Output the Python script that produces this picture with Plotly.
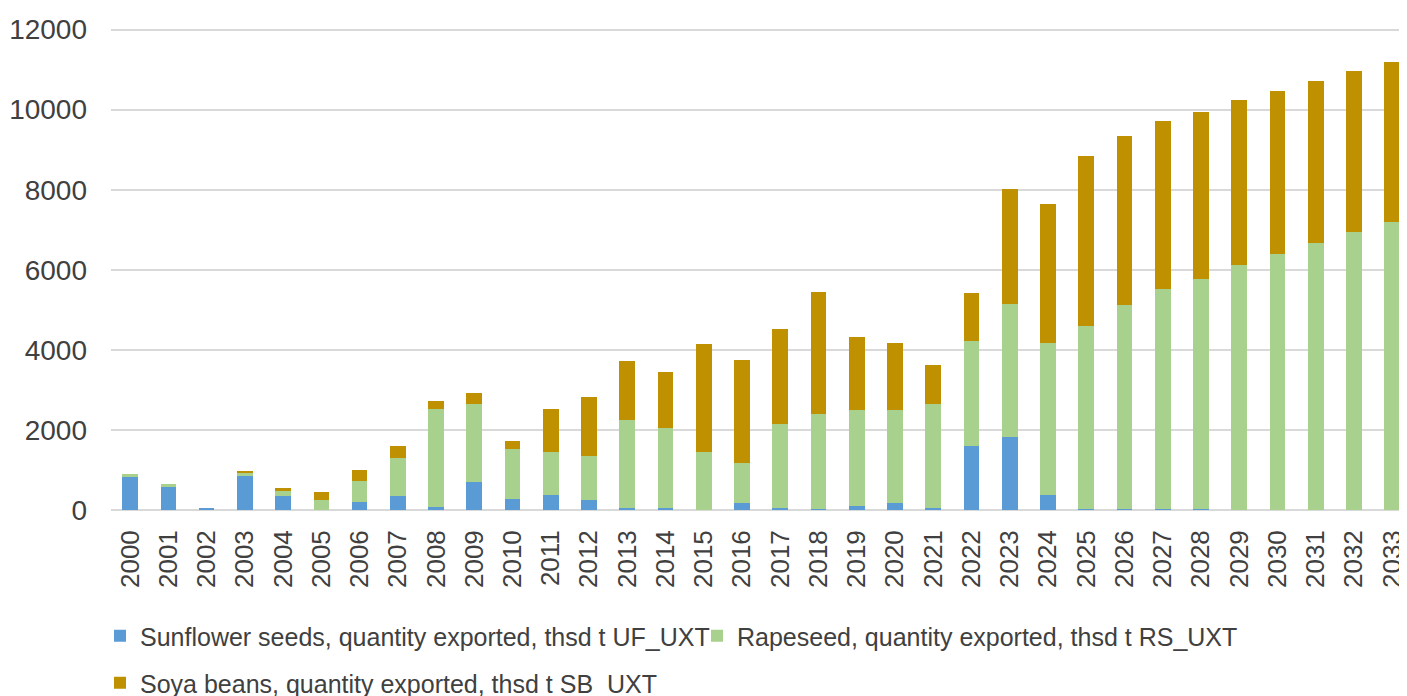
import plotly.graph_objects as go

# years on the category axis
years = [str(y) for y in range(2000, 2034)]

# thsd t
sunflower = [830, 580, 60, 860, 340, 10, 210, 355, 85, 700,
             280, 385, 245, 60, 60, 10, 170, 55, 20, 90,
             170, 60, 1600, 1830, 380, 15, 15, 15, 15, 8,
             8, 8, 8, 8]
rapeseed = [60, 75, 0, 55, 145, 250, 525, 950, 2440, 1960,
            1240, 1060, 1115, 2180, 1980, 1450, 1000, 2090, 2390, 2400,
            2320, 2580, 2630, 3320, 3790, 4570, 5110, 5510, 5760, 6100,
            6385, 6660, 6935, 7175]
soya = [0, 0, 0, 60, 55, 185, 260, 305, 200, 255,
        200, 1090, 1465, 1490, 1400, 2675, 2570, 2375, 3030, 1820,
        1680, 990, 1200, 2870, 3480, 4270, 4225, 4190, 4170, 4135,
        4085, 4060, 4015, 4000]

names = ['Sunflower seeds, quantity exported, thsd t UF_UXT',
         'Rapeseed, quantity exported, thsd t RS_UXT',
         'Soya beans, quantity exported, thsd t SB_UXT']
colors = ['#5B9BD5', '#A9D18E', '#BF9000']
FONT = 'Liberation Sans, Arial, sans-serif'
TXT = '#404040'

# the page body has an 8px margin, so the figure sits at (8, 8)
W, H = 1399, 688
OFF = 8
Y_TOP = 12040  # a little headroom so the 12000 gridline gets drawn

fig = go.Figure()
for vals, name, col, leg in zip([sunflower, rapeseed, soya], names, colors,
                                ['legend', 'legend2', 'legend3']):
    fig.add_trace(go.Bar(
        x=years, y=vals, name=name, marker_color=col,
        marker_line_width=0, legend=leg, showlegend=True
    ))

leg_common = dict(orientation='h', xref='container', yref='container',
                  xanchor='left', yanchor='middle', bgcolor='rgba(0,0,0,0)',
                  font=dict(family=FONT, size=25, color=TXT))


def lx(px):
    return (px - OFF) / W


def ly(px):
    return 1 - (px - OFF) / H


# 480 px for 0..12000 (y=510 down to y=30 on the page)
top_px = 30 - (Y_TOP - 12000) * 480 / 12000

fig.update_layout(
    barmode='stack',
    bargap=0.59,
    width=W,
    height=H,
    showlegend=True,
    margin=dict(l=111 - OFF, r=0, t=top_px - OFF, b=H - (510 - OFF)),
    plot_bgcolor='white',
    paper_bgcolor='white',
    font=dict(family=FONT, color=TXT),
    legend=dict(x=lx(100), y=ly(636), **leg_common),
    legend2=dict(x=lx(697), y=ly(636), **leg_common),
    legend3=dict(x=lx(100), y=ly(683), **leg_common),
)
fig.update_xaxes(
    type='category', range=[-0.5, 33.31], tickangle=-90,
    tickfont=dict(family=FONT, size=26, color=TXT),
    showgrid=False, showline=False, ticklabelstandoff=14
)
fig.update_yaxes(
    range=[0, Y_TOP], tickvals=[0, 2000, 4000, 6000, 8000, 10000, 12000],
    tickformat='d',
    tickfont=dict(family=FONT, size=28, color=TXT),
    showgrid=True, gridcolor='#D9D9D9', gridwidth=1.5,
    zeroline=True, zerolinecolor='#D9D9D9', zerolinewidth=1.5,
    ticklabelstandoff=23
)

fig.write_html('out.html')
